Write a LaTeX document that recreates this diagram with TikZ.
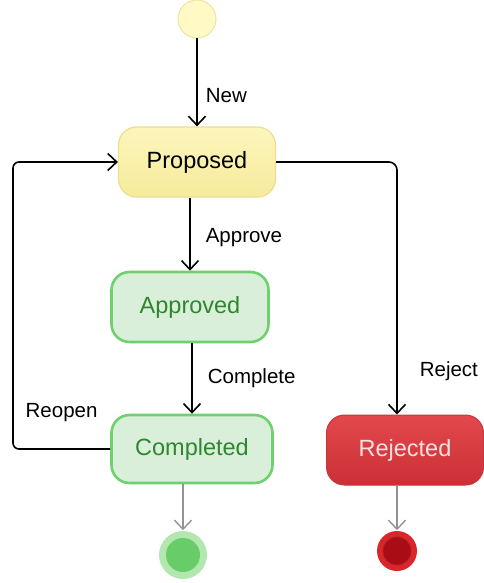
\documentclass[tikz,border=0pt]{standalone}
\usepackage{fontspec}
\setmainfont{Liberation Sans}
\usetikzlibrary{positioning, arrows.meta}
\definecolor{initfill}{HTML}{FFF9C6}
\definecolor{initline}{HTML}{F0E3A0}
\definecolor{proptop}{HTML}{FCF6BC}
\definecolor{propbot}{HTML}{F7EA9C}
\definecolor{propline}{HTML}{EEDD92}
\definecolor{grfill}{HTML}{DAEFD9}
\definecolor{grline}{HTML}{6FD06F}
\definecolor{grtext}{HTML}{2E862E}
\definecolor{rejtop}{HTML}{E2484D}
\definecolor{rejbot}{HTML}{CC3036}
\definecolor{rejline}{HTML}{C8363C}
\definecolor{endgreen}{HTML}{B2E8B0}
\definecolor{endgreenin}{HTML}{68CC68}
\definecolor{endred}{HTML}{D9262B}
\definecolor{endredin}{HTML}{A80C14}

\begin{document}
\begin{tikzpicture}[x=1pt, y=-1pt, >={Straight Barb[length=9pt,width=17pt]},
                line width=1.6pt, 
                act/.style={rectangle, rounded corners=18pt, minimum width=157pt,
                    minimum height=70pt, font=\fontsize{23.5}{25}\selectfont},
                lbl/.style={font=\fontsize{20.5}{22}\selectfont, inner sep=0pt},
                final/.style={->, draw=gray!85, line width=1.4pt}]

                \useasboundingbox (0,0) rectangle (484,583);

                \node[circle, minimum size=38pt, fill=initfill, draw=initline, line width=1pt] (init) at (197,19) {};
                \node[act, top color=proptop, bottom color=propbot, draw=propline, line width=1.2pt] (prop) at (197,162) {Proposed};
                \node[act, fill=grfill, draw=grline, line width=2.6pt, text=grtext] (appr) at (190,307) {Approved};
                \node[act, fill=grfill, draw=grline, line width=2.6pt, text=grtext, minimum width=161pt, minimum height=68pt] (comp) at (192,449) {Completed};
                \node[act, top color=rejtop, bottom color=rejbot, draw=rejline, line width=1pt, text=white!88!red] (rej) at (405,450) {Rejected};

                \node[circle, minimum size=48pt, fill=endgreen, inner sep=0pt] (endok) at (183,555) {};
                \node[circle, minimum size=34pt, fill=endgreenin, inner sep=0pt] at (endok) {};
                \node[circle, minimum size=40pt, fill=endred, inner sep=0pt] (endrej) at (397,551) {};
                \node[circle, minimum size=28pt, fill=endredin, draw=endred!80!black, line width=0.8pt, inner sep=0pt] at (endrej) {};

                \coordinate (loop) at (13,449);

                \path[->]
                (init) edge node[lbl, right=8pt, pos=0.65] {New} (prop)
                ([xshift=-7pt]prop.south) edge node[lbl, right=15pt, pos=0.55] {Approve} (appr)
                ([xshift=2pt]appr.south) edge node[lbl, right=15pt] {Complete} (comp.north);

                \draw[->, rounded corners=8pt] (prop.east) -| node[lbl, right=22pt, pos=0.915] {Reject} ([xshift=-8pt]rej.north);
                \draw[->, rounded corners=6pt] (comp.west) -- node[lbl, above=26pt] {Reopen} (loop) |- (prop.west);

                \draw[final] ([xshift=-9pt]comp.south) -- (endok);
                \draw[final] ([xshift=-8pt]rej.south) -- (endrej);
            
            \end{tikzpicture}
\end{document}
